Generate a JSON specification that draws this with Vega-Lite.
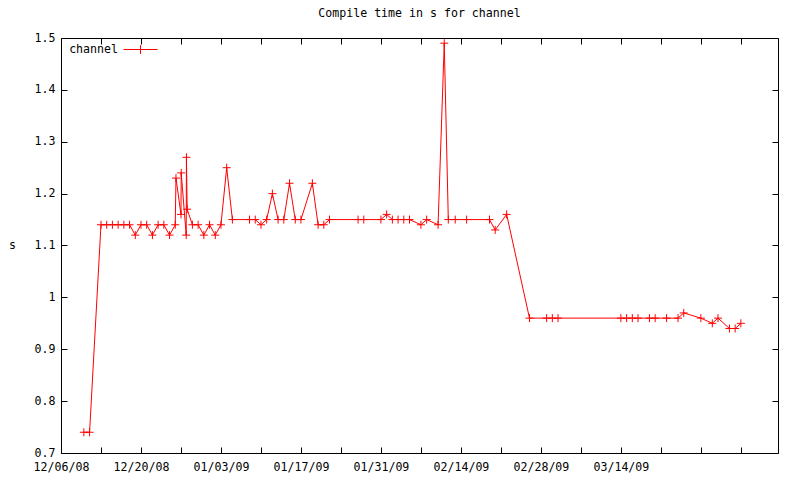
{
  "$schema": "https://vega.github.io/schema/vega-lite/v6.json",
  "width": 717,
  "height": 415,
  "autosize": "none",
  "padding": {"left": 61, "top": 38, "right": 22, "bottom": 27},
  "background": "white",
  "title": {"text": "Compile time in s for channel", "font": "DejaVu Sans Mono", "fontSize": 11.6, "fontWeight": "normal", "color": "black", "offset": 12},
  "config": {
    "view": {"stroke": "black", "strokeWidth": 1},
    "axis": {"domain": false, "grid": false, "tickColor": "black", "tickSize": -6, "tickWidth": 1, "labelFont": "DejaVu Sans Mono", "labelFontSize": 11.6, "labelColor": "black", "labelPadding": 12, "labelOverlap": false, "labelFlush": false, "titleFont": "DejaVu Sans Mono", "titleFontSize": 11.6, "titleFontWeight": "normal", "titleColor": "black"}
  },
  "data": {"values": [
    {"date": "2008-12-10T00:00:00Z", "s": 0.74},
    {"date": "2008-12-11T00:00:00Z", "s": 0.74},
    {"date": "2008-12-13T00:00:00Z", "s": 1.14},
    {"date": "2008-12-14T00:00:00Z", "s": 1.14},
    {"date": "2008-12-15T00:00:00Z", "s": 1.14},
    {"date": "2008-12-16T00:00:00Z", "s": 1.14},
    {"date": "2008-12-17T00:00:00Z", "s": 1.14},
    {"date": "2008-12-18T00:00:00Z", "s": 1.14},
    {"date": "2008-12-19T00:00:00Z", "s": 1.12},
    {"date": "2008-12-20T00:00:00Z", "s": 1.14},
    {"date": "2008-12-21T00:00:00Z", "s": 1.14},
    {"date": "2008-12-22T00:00:00Z", "s": 1.12},
    {"date": "2008-12-23T00:00:00Z", "s": 1.14},
    {"date": "2008-12-24T00:00:00Z", "s": 1.14},
    {"date": "2008-12-25T00:00:00Z", "s": 1.12},
    {"date": "2008-12-26T00:00:00Z", "s": 1.14},
    {"date": "2008-12-26T03:00:00Z", "s": 1.23},
    {"date": "2008-12-27T00:00:00Z", "s": 1.16},
    {"date": "2008-12-27T01:00:00Z", "s": 1.24},
    {"date": "2008-12-27T22:00:00Z", "s": 1.12},
    {"date": "2008-12-27T23:00:00Z", "s": 1.27},
    {"date": "2008-12-28T02:00:00Z", "s": 1.17},
    {"date": "2008-12-29T00:00:00Z", "s": 1.14},
    {"date": "2008-12-30T00:00:00Z", "s": 1.14},
    {"date": "2008-12-31T00:00:00Z", "s": 1.12},
    {"date": "2009-01-01T00:00:00Z", "s": 1.14},
    {"date": "2009-01-02T00:00:00Z", "s": 1.12},
    {"date": "2009-01-03T00:00:00Z", "s": 1.14},
    {"date": "2009-01-04T00:00:00Z", "s": 1.25},
    {"date": "2009-01-05T00:00:00Z", "s": 1.15},
    {"date": "2009-01-08T00:00:00Z", "s": 1.15},
    {"date": "2009-01-09T00:00:00Z", "s": 1.15},
    {"date": "2009-01-10T00:00:00Z", "s": 1.14},
    {"date": "2009-01-11T00:00:00Z", "s": 1.15},
    {"date": "2009-01-12T00:00:00Z", "s": 1.20},
    {"date": "2009-01-13T00:00:00Z", "s": 1.15},
    {"date": "2009-01-14T00:00:00Z", "s": 1.15},
    {"date": "2009-01-15T00:00:00Z", "s": 1.22},
    {"date": "2009-01-16T00:00:00Z", "s": 1.15},
    {"date": "2009-01-17T00:00:00Z", "s": 1.15},
    {"date": "2009-01-19T00:00:00Z", "s": 1.22},
    {"date": "2009-01-20T00:00:00Z", "s": 1.14},
    {"date": "2009-01-21T00:00:00Z", "s": 1.14},
    {"date": "2009-01-22T00:00:00Z", "s": 1.15},
    {"date": "2009-01-27T00:00:00Z", "s": 1.15},
    {"date": "2009-01-28T00:00:00Z", "s": 1.15},
    {"date": "2009-01-31T00:00:00Z", "s": 1.15},
    {"date": "2009-02-01T00:00:00Z", "s": 1.16},
    {"date": "2009-02-02T00:00:00Z", "s": 1.15},
    {"date": "2009-02-03T00:00:00Z", "s": 1.15},
    {"date": "2009-02-04T00:00:00Z", "s": 1.15},
    {"date": "2009-02-05T00:00:00Z", "s": 1.15},
    {"date": "2009-02-07T00:00:00Z", "s": 1.14},
    {"date": "2009-02-08T00:00:00Z", "s": 1.15},
    {"date": "2009-02-10T00:00:00Z", "s": 1.14},
    {"date": "2009-02-11T02:00:00Z", "s": 1.49},
    {"date": "2009-02-11T19:00:00Z", "s": 1.15},
    {"date": "2009-02-13T00:00:00Z", "s": 1.15},
    {"date": "2009-02-15T00:00:00Z", "s": 1.15},
    {"date": "2009-02-19T00:00:00Z", "s": 1.15},
    {"date": "2009-02-20T00:00:00Z", "s": 1.13},
    {"date": "2009-02-22T00:00:00Z", "s": 1.16},
    {"date": "2009-02-26T00:00:00Z", "s": 0.96},
    {"date": "2009-03-01T00:00:00Z", "s": 0.96},
    {"date": "2009-03-02T00:00:00Z", "s": 0.96},
    {"date": "2009-03-03T00:00:00Z", "s": 0.96},
    {"date": "2009-03-14T00:00:00Z", "s": 0.96},
    {"date": "2009-03-15T00:00:00Z", "s": 0.96},
    {"date": "2009-03-16T00:00:00Z", "s": 0.96},
    {"date": "2009-03-17T00:00:00Z", "s": 0.96},
    {"date": "2009-03-19T00:00:00Z", "s": 0.96},
    {"date": "2009-03-20T00:00:00Z", "s": 0.96},
    {"date": "2009-03-22T00:00:00Z", "s": 0.96},
    {"date": "2009-03-24T00:00:00Z", "s": 0.96},
    {"date": "2009-03-25T00:00:00Z", "s": 0.97},
    {"date": "2009-03-28T00:00:00Z", "s": 0.96},
    {"date": "2009-03-30T00:00:00Z", "s": 0.95},
    {"date": "2009-03-31T00:00:00Z", "s": 0.96},
    {"date": "2009-04-02T00:00:00Z", "s": 0.94},
    {"date": "2009-04-03T00:00:00Z", "s": 0.94},
    {"date": "2009-04-04T00:00:00Z", "s": 0.95}
  ]},
  "layer": [
    {
      "mark": {"type": "line", "strokeWidth": 1},
      "encoding": {
        "x": {"field": "date", "type": "temporal",
          "scale": {"type": "utc", "domain": [{"year": 2008, "month": 12, "date": 6, "utc": true}, {"year": 2009, "month": 4, "date": 10, "hours": 12, "utc": true}], "nice": false},
          "axis": {"orient": "bottom", "title": null, "labelPadding": 14,
            "values": [
              {"year": 2008, "month": 12, "date": 6, "utc": true},
              {"year": 2008, "month": 12, "date": 13, "utc": true},
              {"year": 2008, "month": 12, "date": 20, "utc": true},
              {"year": 2008, "month": 12, "date": 27, "utc": true},
              {"year": 2009, "month": 1, "date": 3, "utc": true},
              {"year": 2009, "month": 1, "date": 10, "utc": true},
              {"year": 2009, "month": 1, "date": 17, "utc": true},
              {"year": 2009, "month": 1, "date": 24, "utc": true},
              {"year": 2009, "month": 1, "date": 31, "utc": true},
              {"year": 2009, "month": 2, "date": 7, "utc": true},
              {"year": 2009, "month": 2, "date": 14, "utc": true},
              {"year": 2009, "month": 2, "date": 21, "utc": true},
              {"year": 2009, "month": 2, "date": 28, "utc": true},
              {"year": 2009, "month": 3, "date": 7, "utc": true},
              {"year": 2009, "month": 3, "date": 14, "utc": true},
              {"year": 2009, "month": 3, "date": 21, "utc": true},
              {"year": 2009, "month": 3, "date": 28, "utc": true},
              {"year": 2009, "month": 4, "date": 4, "utc": true}
            ],
            "labelExpr": "(round((+datum.value - 1228521600000) / 604800000) % 2 == 0 && +datum.value < 1237000000000) ? utcFormat(datum.value, '%m/%d/%y') : ''",
            "labelBaseline": "top"}},
        "y": {"field": "s", "type": "quantitative",
          "scale": {"domain": [0.7, 1.5], "zero": false, "nice": false},
          "axis": {"orient": "left", "title": "s", "titleAngle": 0, "titleX": -49, "titleY": 207.5, "titleAlign": "center", "titleBaseline": "middle",
            "values": [0.7, 0.8, 0.9, 1, 1.1, 1.2, 1.3, 1.4, 1.5], "format": "~g"}},
        "color": {"datum": "channel", "type": "nominal",
          "scale": {"range": ["#ff0000"]},
          "legend": {"orient": "none", "legendX": 0, "legendY": -6, "title": null, "padding": 0,
            "symbolType": "M-1,0H1M0,-0.26V0.26", "symbolSize": 1156, "symbolStrokeWidth": 1,
            "symbolStrokeColor": "#ff0000", "symbolFillColor": "transparent",
            "symbolOffset": 62, "labelOffset": -40, "labelAlign": "right",
            "labelFont": "DejaVu Sans Mono", "labelFontSize": 11.6, "labelColor": "black"}}
      }
    },
    {
      "mark": {"type": "point", "shape": "M-1,0H1M0,-1V1", "size": 64, "filled": false, "strokeWidth": 1, "color": "#ff0000", "opacity": 1},
      "encoding": {
        "x": {"field": "date", "type": "temporal", "axis": null},
        "y": {"field": "s", "type": "quantitative", "axis": null}
      }
    },
    {
      "mark": {"type": "line", "opacity": 0},
      "encoding": {
        "x": {"field": "date", "type": "temporal",
          "axis": {"orient": "top", "title": null, "labels": false,
            "values": [
              {"year": 2008, "month": 12, "date": 6, "utc": true},
              {"year": 2008, "month": 12, "date": 13, "utc": true},
              {"year": 2008, "month": 12, "date": 20, "utc": true},
              {"year": 2008, "month": 12, "date": 27, "utc": true},
              {"year": 2009, "month": 1, "date": 3, "utc": true},
              {"year": 2009, "month": 1, "date": 10, "utc": true},
              {"year": 2009, "month": 1, "date": 17, "utc": true},
              {"year": 2009, "month": 1, "date": 24, "utc": true},
              {"year": 2009, "month": 1, "date": 31, "utc": true},
              {"year": 2009, "month": 2, "date": 7, "utc": true},
              {"year": 2009, "month": 2, "date": 14, "utc": true},
              {"year": 2009, "month": 2, "date": 21, "utc": true},
              {"year": 2009, "month": 2, "date": 28, "utc": true},
              {"year": 2009, "month": 3, "date": 7, "utc": true},
              {"year": 2009, "month": 3, "date": 14, "utc": true},
              {"year": 2009, "month": 3, "date": 21, "utc": true},
              {"year": 2009, "month": 3, "date": 28, "utc": true},
              {"year": 2009, "month": 4, "date": 4, "utc": true}
            ]}},
        "y": {"field": "s", "type": "quantitative",
          "axis": {"orient": "right", "title": null, "labels": false, "values": [0.7, 0.8, 0.9, 1, 1.1, 1.2, 1.3, 1.4, 1.5]}}
      }
    }
  ],
  "resolve": {"axis": {"x": "independent", "y": "independent"}}
}
